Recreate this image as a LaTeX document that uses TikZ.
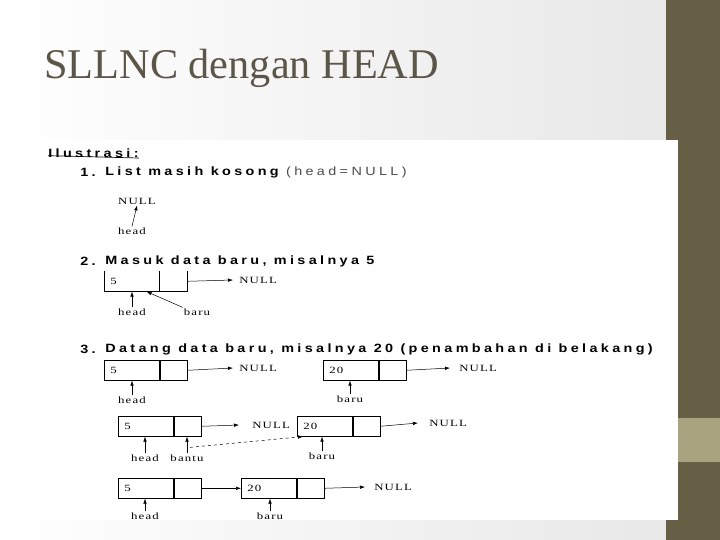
\documentclass[tikz,border=0pt]{standalone}
\usepackage{fontspec}
\setmainfont{Liberation Serif}
\setsansfont{Liberation Sans}
\newfontfamily\spaced[LetterSpace=28, FakeStretch=1.2]{Liberation Sans}
\newfontfamily\lblfont[LetterSpace=12, FakeStretch=1.35]{Liberation Serif}
\usetikzlibrary{arrows.meta,positioning}

\definecolor{bandbrown}{HTML}{675E46}
\definecolor{bandtan}{HTML}{A9A47F}
\definecolor{titlegray}{HTML}{5C5648}

\tikzset{
  cellbase/.style={minimum height=20pt, inner sep=0pt, anchor=north west},
  datacell/.style={cellbase, minimum width=55pt, text width=43pt, inner xsep=6pt, align=left, font=\lblfont\fontsize{9.5}{10}\selectfont},
  nextcell/.style={cellbase, minimum width=27pt},
  lbl/.style={inner sep=1pt, font=\lblfont\fontsize{9.5}{10}\selectfont},
  heading/.style={anchor=west, inner sep=0pt, font=\spaced\bfseries\fontsize{12}{14}\selectfont},
  ptr/.style={-{Latex[length=5pt,width=3.5pt]}, line width=0.5pt},
}

\begin{document}
\begin{tikzpicture}[x=1pt,y=-1pt,line width=0.6pt]
  \useasboundingbox (0,0) rectangle (720,540);
  % slide
  \shade[left color=white, right color=black!9] (0,0) rectangle (666,540);
  \fill[bandbrown] (666,0) rectangle (720,540);
  \fill[bandtan] (666,418) rectangle (720,462);
  \node[anchor=base west, inner sep=0pt, text=titlegray, font=\fontsize{42.3}{45}\selectfont] (title) at (44,79) {SLLNC dengan HEAD};
  \fill[white] (44,140) rectangle (678,520);

  % headings
  \node[heading] (ilus) at (48,153) {Ilustrasi:};
  \draw[line width=0.7pt] (ilus.south west)++(0,-2) -- (ilus.south east |- 0,158);
  \node[heading] (h1) at (80,172) {1.};
  \node[heading] (t1) at (105,172) {List masih kosong {\mdseries\color{black!70}(head=NULL)}};
  \node[heading] (h2) at (80,261) {2.};
  \node[heading] (t2) at (105,261) {Masuk data baru, misalnya 5};
  \node[heading] (h3) at (80,349) {3.};
  \node[heading] (t3) at (105,349) {Datang data baru, misalnya 20 (penambahan di belakang)};

  % 1. empty list
  \node[lbl] (null1) at (137,201) {NULL};
  \node[lbl] (head1) at (132,231) {head};
  \draw[ptr] (head1.north) -- (null1.south);

  % 2. first node
  \node[datacell] (d2) at (104,271) {5};
  \node[nextcell, right=0pt of d2] (n2) {};
  \draw (d2.north west) |- (n2.south east) -- (n2.north east);
  \draw (n2.north west) -- (n2.south west);
  \node[lbl, anchor=west] (null2) at (238,280) {NULL};
  \draw[ptr] (n2.east) -- ([xshift=-5pt]null2.west);
  \node[lbl] (head2) at (132,312) {head};
  \node[lbl] (baru2) at (197,312) {baru};
  \draw[ptr] (head2.north) -- (d2.south -| head2.north);
  \draw[ptr] (baru2.north west) -- ([xshift=-13pt]n2.south west);

  % 3. row A
  \node[datacell, draw] (d3a) at (104,360) {5};
  \node[nextcell, draw, right=0pt of d3a] (n3a) {};
  \node[lbl, anchor=west] (null3a) at (238,368) {NULL};
  \draw[ptr] (n3a.east) -- ([xshift=-5pt]null3a.west);
  \node[datacell, draw] (d3b) at (323,360) {20};
  \node[nextcell, draw, right=0pt of d3b] (n3b) {};
  \node[lbl, anchor=west] (null3b) at (458,368) {NULL};
  \draw[ptr] (n3b.east) -- ([xshift=-8pt]null3b.west);
  \node[lbl] (head3a) at (132,400) {head};
  \node[lbl] (baru3a) at (350,399) {baru};
  \draw[ptr] (head3a.north) -- (d3a.south -| head3a.north);
  \draw[ptr] (baru3a.north) -- (d3b.south -| baru3a.north);

  % 3. row B
  \node[datacell, draw] (d3c) at (118,416) {5};
  \node[nextcell, draw, right=0pt of d3c] (n3c) {};
  \node[lbl, anchor=west] (null3c) at (251,425) {NULL};
  \draw[ptr] (n3c.east) -- ([xshift=-12pt]null3c.west);
  \node[datacell, draw] (d3d) at (297,416) {20};
  \node[nextcell, draw, right=0pt of d3d] (n3d) {};
  \node[lbl, anchor=west] (null3d) at (428,423) {NULL};
  \draw[ptr] (n3d.east) -- ([xshift=-10pt]null3d.west);
  \node[lbl] (head3b) at (145,458) {head};
  \node[lbl] (bantu) at (187,458) {bantu};
  \node[lbl] (baru3b) at (322,456) {baru};
  \draw[ptr] (head3b.north) -- (d3c.south -| head3b.north);
  \draw[ptr] (bantu.north) -- (n3c.south -| bantu.north);
  \draw[ptr] (baru3b.north) -- (d3d.south -| baru3b.north);
  \coordinate (bk) at ([xshift=3pt,yshift=6pt]bantu.north);
  \draw[ptr, dashed] (bk) -- ([xshift=6pt]d3d.south west);

  % 3. row C
  \node[datacell, draw] (d3e) at (118,478) {5};
  \node[nextcell, draw, right=0pt of d3e] (n3e) {};
  \node[datacell, draw] (d3f) at (241,478) {20};
  \node[nextcell, draw, right=0pt of d3f] (n3f) {};
  \draw[ptr] (n3e.east) -- (d3f.west);
  \node[lbl, anchor=west] (null3f) at (373,487) {NULL};
  \draw[ptr] (n3f.east) -- ([xshift=-8pt]null3f.west);
  \node[lbl] (head3c) at (145,516) {head};
  \node[lbl] (baru3c) at (270,516) {baru};
  \draw[ptr] (head3c.north) -- (d3e.south -| head3c.north);
  \draw[ptr] (baru3c.north) -- (d3f.south -| baru3c.north);
\end{tikzpicture}
\end{document}
